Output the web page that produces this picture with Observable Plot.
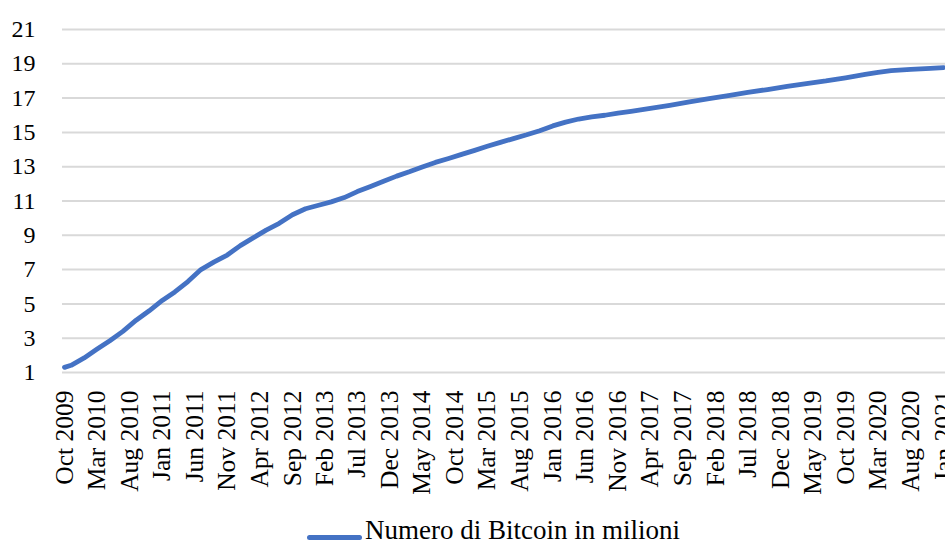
<!DOCTYPE html>
<html>
<head>
<meta charset="utf-8">
<script src="https://cdn.jsdelivr.net/npm/d3@7"></script>
<script src="https://cdn.jsdelivr.net/npm/@observablehq/plot@0.6"></script>
<style>
  html, body { margin: 0; padding: 0; background: #fff; }
  #chart { position: relative; width: 945px; height: 545px; overflow: hidden; }
  .legend { position: absolute; left: 307px; top: 517px; height: 27px; line-height: 27px;
            font-family: "Liberation Serif", "Times New Roman", serif; font-size: 27px; color: #000;
            display: flex; align-items: flex-start; white-space: nowrap; }
  .legend .swatch { width: 55px; height: 0; border-top: 5px solid #4472C4; border-radius: 3px; margin-top: 17.5px; margin-right: 3px; }
</style>
</head>
<body>
<div id="chart"></div>
<script>
// Months (YYYY-MM) and estimated number of bitcoins (millions)
const months = ["2009-10","2009-11","2010-01","2010-03","2010-05","2010-07","2010-09","2010-11",
  "2011-01","2011-03","2011-05","2011-07","2011-09","2011-11","2012-01","2012-03","2012-05","2012-07",
  "2012-09","2012-11","2013-01","2013-03","2013-05","2013-07","2013-09","2013-11","2014-01","2014-03",
  "2014-05","2014-07","2014-09","2014-11","2015-01","2015-03","2015-05","2015-07","2015-09","2015-11",
  "2016-01","2016-03","2016-05","2016-07","2016-09","2016-11","2017-01","2017-04","2017-07","2017-10",
  "2018-01","2018-04","2018-07","2018-10","2019-01","2019-04","2019-07","2019-10","2020-01","2020-03",
  "2020-05","2020-08","2020-11","2021-01"];
const bitcoinMillions = [1.30,1.42,1.85,2.35,2.85,3.40,4.05,4.60,
  5.20,5.70,6.30,7.00,7.45,7.85,8.40,8.85,9.30,9.70,
  10.20,10.55,10.75,10.95,11.20,11.55,11.85,12.15,12.45,12.70,
  12.98,13.25,13.48,13.72,13.95,14.19,14.42,14.64,14.86,15.10,
  15.38,15.60,15.78,15.90,16.00,16.13,16.23,16.40,16.58,16.78,
  16.97,17.15,17.33,17.50,17.68,17.85,18.00,18.18,18.38,18.50,
  18.60,18.67,18.73,18.78];
const xTickLabels = ["Oct 2009","Mar 2010","Aug 2010","Jan 2011","Jun 2011","Nov 2011","Apr 2012",
  "Sep 2012","Feb 2013","Jul 2013","Dec 2013","May 2014","Oct 2014","Mar 2015","Aug 2015","Jan 2016",
  "Jun 2016","Nov 2016","Apr 2017","Sep 2017","Feb 2018","Jul 2018","Dec 2018","May 2019","Oct 2019",
  "Mar 2020","Aug 2020","Jan 2021"];
const yTicks = [1,3,5,7,9,11,13,15,17,19,21];
const seriesName = "Numero di Bitcoin in milioni";

const parseMonth = d3.utcParse("%Y-%m");
const parseLabel = d3.utcParse("%b %Y");
const data = months.map((m, i) => ({date: parseMonth(m), value: bitcoinMillions[i]}));
const tickDates = xTickLabels.map(parseLabel);
const labelOf = new Map(tickDates.map((d, i) => [+d, xTickLabels[i]]));

const chart = Plot.plot({
  width: 945,
  height: 512,
  marginLeft: 62,
  marginRight: 0,
  marginTop: 29,
  marginBottom: 140,
  insetLeft: 2,
  insetRight: 2,
  style: {fontFamily: "'Liberation Serif', 'Times New Roman', serif", fontSize: "24px", color: "#000", background: "#fff", overflow: "visible"},
  x: {type: "utc", domain: [tickDates[0], tickDates[tickDates.length - 1]]},
  y: {domain: [1, 21]},
  marks: [
    Plot.gridY(yTicks, {stroke: "#d9d9d9", strokeOpacity: 1, strokeWidth: 2}),
    Plot.axisY(yTicks, {tickSize: 0, tickPadding: 27, label: null, fontSize: 24}),
    Plot.axisX(tickDates, {tickSize: 0, tickPadding: 18, tickRotate: -90, label: null, fontSize: 25.5,
      tickFormat: d => labelOf.get(+d)}),
    Plot.line(data, {x: "date", y: "value", stroke: "#4472C4", strokeWidth: 4.8, strokeLinecap: "round", strokeLinejoin: "round"})
  ]
});
document.getElementById("chart").appendChild(chart);
const legend = document.createElement("div");
legend.className = "legend";
legend.innerHTML = `<span class="swatch"></span><span>${seriesName}</span>`;
document.getElementById("chart").appendChild(legend);
</script>
</body>
</html>
